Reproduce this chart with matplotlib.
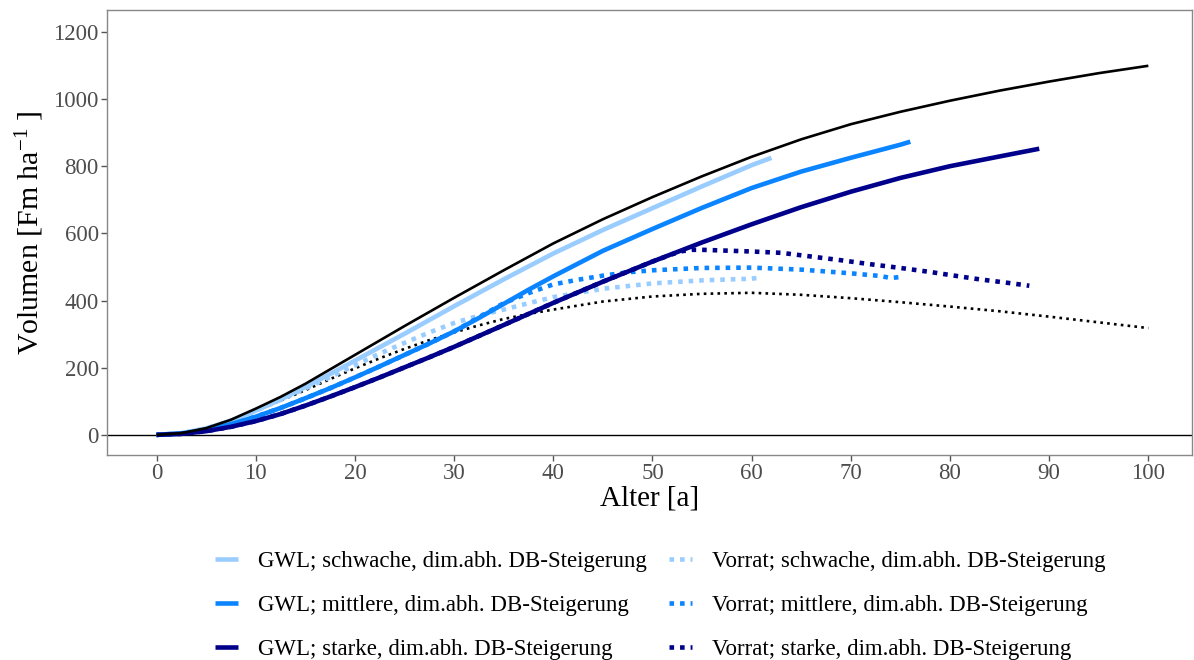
import matplotlib
matplotlib.use("Agg")
import matplotlib.pyplot as plt
from matplotlib.lines import Line2D

plt.rcParams['font.family'] = ['Liberation Serif', 'DejaVu Serif']
plt.rcParams['mathtext.fontset'] = 'custom'
plt.rcParams['mathtext.rm'] = 'Liberation Serif'
plt.rcParams['mathtext.it'] = 'Liberation Serif:italic'

# --- data ---
ref_age = [0, 2.5, 5, 7.5, 10, 12.5, 15, 17.5, 20, 22.5, 25, 27.5, 30, 35, 40, 45, 50, 55, 60,
           65, 70, 75, 80, 85, 90, 95, 100]
ref_gwl = [0, 5, 20, 45, 78, 113, 152, 195, 238, 281, 324, 366, 408, 490, 570, 642, 708, 770, 828,
           880, 925, 962, 995, 1025, 1052, 1077, 1099]
ref_vor_age = [0, 2.5, 5, 7.5, 10, 12.5, 15, 17.5, 20, 22.5, 25, 27.5, 30, 32.5, 35, 37.5, 40, 45,
               50, 55, 60, 65, 70, 75, 80, 85, 90, 95, 100]
ref_vor = [0, 5, 19, 43, 72, 102, 133, 166, 198, 228, 256, 282, 305, 326, 345, 360, 373, 397,
           412, 420, 423, 417, 407, 395, 382, 368, 352, 335, 318]

lo_age = [0, 2.5, 5, 7.5, 10, 12.5, 15, 17.5, 20, 22.5, 25, 27.5, 30, 35, 40, 45, 50, 55, 60, 62]
lo_gwl = [0, 5, 19, 42, 72, 105, 142, 181, 221, 261, 301, 342, 383, 463, 540, 610, 675, 740, 803, 825]
lo_vor_age = [0, 2.5, 5, 7.5, 10, 12.5, 15, 17.5, 20, 22.5, 25, 27.5, 30, 32.5, 35, 37.5, 40, 45,
              50, 55, 60, 61]
lo_vor = [0, 5, 19, 42, 72, 104, 138, 172, 207, 242, 274, 305, 333, 355, 373, 392, 410, 435,
          451, 460, 465, 469]

mi_age = [0, 2.5, 5, 7.5, 10, 12.5, 15, 17.5, 20, 22.5, 25, 27.5, 30, 32.5, 35, 37.5, 40, 45, 50,
          55, 60, 65, 70, 75, 76]
mi_gwl = [0, 4, 15, 32, 54, 80, 109, 139, 171, 204, 238, 272, 308, 348, 390, 432, 472, 548, 613,
          676, 735, 784, 825, 864, 873]
mi_vor_age = [0, 2.5, 5, 7.5, 10, 12.5, 15, 17.5, 20, 22.5, 25, 27.5, 30, 32.5, 35, 37.5, 40, 42.5,
              45, 47.5, 50, 55, 60, 65, 70, 73, 74, 75]
mi_vor = [0, 4, 15, 32, 54, 80, 109, 139, 171, 204, 238, 272, 308, 350, 392, 422, 448, 462,
          474, 484, 490, 497, 498, 492, 481, 473, 467, 470]

hi_age = [0, 2.5, 5, 7.5, 10, 12.5, 15, 17.5, 20, 22.5, 25, 27.5, 30, 35, 40, 45, 50, 55, 60, 65,
          70, 75, 80, 85, 89]
hi_gwl = [0, 3, 11, 24, 41, 62, 87, 114, 142, 171, 201, 231, 262, 327, 393, 456, 516, 573, 627, 678,
          724, 765, 800, 829, 852]
hi_vor_age = [0, 2.5, 5, 7.5, 10, 12.5, 15, 17.5, 20, 22.5, 25, 27.5, 30, 35, 40, 45, 50, 52, 53,
              54, 55, 57, 60, 63, 66, 69, 72, 75, 78, 80, 83, 86, 88]
hi_vor = [0, 3, 11, 24, 41, 62, 87, 114, 142, 171, 201, 231, 262, 327, 393, 456, 516, 538, 547,
          551, 551, 549, 546, 542, 531, 520, 508, 497, 485, 476, 463, 452, 444]

labels_gwl = ["GWL; schwache, dim.abh. DB-Steigerung",
              "GWL; mittlere, dim.abh. DB-Steigerung",
              "GWL; starke, dim.abh. DB-Steigerung"]
labels_vor = ["Vorrat; schwache, dim.abh. DB-Steigerung",
              "Vorrat; mittlere, dim.abh. DB-Steigerung",
              "Vorrat; starke, dim.abh. DB-Steigerung"]
colors = ['#99CCFF', '#0A84FF', '#00008B']

x_ticks = list(range(0, 101, 10))
y_ticks = list(range(0, 1201, 200))

# --- figure ---
fig = plt.figure(figsize=(11.94, 6.60), dpi=100)
ax = fig.add_axes([0.0896, 0.3106, 0.9087, 0.6742])

ax.axhline(0, color='black', lw=1.0, zorder=1)

dot_c = (0, (1, 1.3))
dot_k = (0, (1, 1.6))
lw_c = 3.3
lw_k = 1.9
sk = dict(solid_capstyle='butt', solid_joinstyle='round')

ax.plot(ref_vor_age, ref_vor, color='black', lw=lw_k, ls=dot_k, zorder=3)
ax.plot(lo_vor_age, lo_vor, color=colors[0], lw=lw_c, ls=dot_c, zorder=3)
ax.plot(mi_vor_age, mi_vor, color=colors[1], lw=lw_c, ls=dot_c, zorder=3)
ax.plot(lo_age, lo_gwl, color=colors[0], lw=lw_c, zorder=4, **sk)
ax.plot(mi_age, mi_gwl, color=colors[1], lw=lw_c, zorder=4, **sk)
ax.plot(hi_vor_age, hi_vor, color=colors[2], lw=lw_c, ls=dot_c, zorder=3)
ax.plot(hi_age, hi_gwl, color=colors[2], lw=lw_c, zorder=4, **sk)
ax.plot(ref_age, ref_gwl, color='black', lw=lw_k, zorder=5, **sk)

ax.set_xlim(-5, 104.4)
ax.set_ylim(-60, 1265)
ax.set_xticks(x_ticks)
ax.set_yticks(y_ticks)
ax.tick_params(axis='both', direction='out', length=4, width=1, color='#555555',
               labelcolor='#4D4D4D', labelsize=16.5, pad=2)
for s in ax.spines.values():
    s.set_color('#888888')
    s.set_linewidth(1.0)

ax.set_xlabel('Alter [a]', fontsize=21, labelpad=1)
ax.set_ylabel(r'Volumen [Fm ha$^{\mathregular{-1}}$ ]', fontsize=21.5, labelpad=5)

handles = []
for c, l in zip(colors, labels_gwl):
    handles.append(Line2D([], [], color=c, lw=lw_c, solid_capstyle='butt', label=l))
for c, l in zip(colors, labels_vor):
    handles.append(Line2D([], [], color=c, lw=lw_c, ls=dot_c, label=l))

fig.legend(handles=handles, ncol=2, loc='center', bbox_to_anchor=(0.553, 0.083),
           frameon=False, fontsize=16.5, handlelength=1.0, handletextpad=0.85,
           columnspacing=1.0, labelspacing=1.0)

fig.savefig('out.png', dpi=100)
